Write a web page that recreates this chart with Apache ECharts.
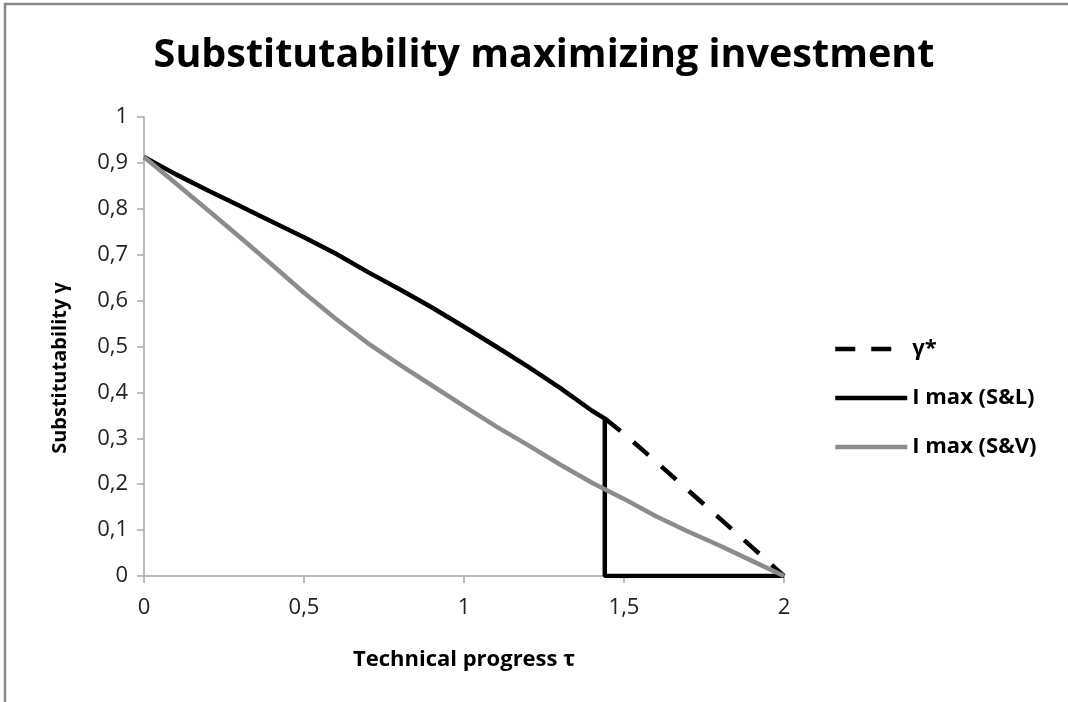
<!DOCTYPE html>
<html>
<head>
<meta charset="utf-8">
<script src="https://cdn.jsdelivr.net/npm/echarts@6/dist/echarts.min.js"></script>
<style>
html,body{margin:0;padding:0;background:#fff;}
#c{width:1068px;height:702px;}
</style>
</head>
<body>
<div id="c"></div>
<script>
const titleText = 'Substitutability maximizing investment';
const xName = 'Technical progress τ';
const yName = 'Substitutability γ';
const seriesNames = ['γ*', 'I max (S&L)', 'I max (S&V)'];

// γ* (dashed), from the S&L cut-off to τ = 2
const gammaStar = [[1.44,0.343],[1.5,0.31],[1.6,0.249],[1.7,0.187],[1.8,0.125],[1.9,0.063],[2,0]];
// I max (S&L), including the drop to zero
const imaxSL = [[0,0.913],[0.1,0.875],[0.2,0.84],[0.3,0.806],[0.4,0.772],[0.5,0.738],[0.6,0.702],[0.7,0.662],[0.8,0.624],[0.9,0.585],[1.0,0.543],[1.1,0.5],[1.2,0.456],[1.3,0.41],[1.4,0.36],[1.44,0.343],[1.44,0],[2,0]];
// I max (S&V)
const imaxSV = [[0,0.913],[0.1,0.855],[0.2,0.797],[0.3,0.738],[0.4,0.678],[0.5,0.617],[0.6,0.56],[0.7,0.507],[0.8,0.46],[0.9,0.415],[1.0,0.37],[1.1,0.326],[1.2,0.285],[1.3,0.243],[1.4,0.203],[1.5,0.168],[1.6,0.13],[1.7,0.097],[1.8,0.066],[1.9,0.033],[2.0,0]];

const FONT = 'Open Sans';
const chart = echarts.init(document.getElementById('c'), null, {renderer:'canvas'});
const fmt = v => (Math.abs(v) < 1e-9 ? '0' : (Math.abs(v-1) < 1e-9 ? '1' : (Math.abs(v-2)<1e-9 ? '2' : (+v.toFixed(1)).toString().replace('.', ','))));

chart.setOption({
  animation: false,
  backgroundColor: '#fff',
  title: {
    text: titleText,
    left: 539, top: 31, textAlign: 'center',
    textStyle: {fontFamily: FONT, fontWeight: 'bold', fontSize: 39.5, color: '#000'}
  },
  graphic: [
    {type:'rect', shape:{x:5, y:4, width:1200, height:900}, style:{fill:'none', stroke:'#8a8a8a', lineWidth:2.5}, silent:true},
    {type:'text', x:60, y:368, rotation: Math.PI/2, style:{text: yName, fontFamily: FONT, fontWeight:'bold', fontSize:20, fill:'#000', align:'center', verticalAlign:'middle'}}
  ],
  legend: {
    orient: 'vertical',
    left: 833, top: 338, padding: 0,
    itemWidth: 72, itemHeight: 26, itemGap: 27,
    itemStyle: {color: 'rgba(0,0,0,0)', borderColor: 'rgba(0,0,0,0)', borderWidth: 0, opacity: 0},
    lineStyle: {width: 4.5},
    textStyle: {fontFamily: FONT, fontWeight: 'bold', fontSize: 22, color: '#000'},
    data: [
      {name: seriesNames[0], lineStyle: {width: 4.5, type: [20, 16]}},
      {name: seriesNames[1]},
      {name: seriesNames[2]}
    ]
  },
  grid: {left: 144, right: 284, top: 117, bottom: 126, containLabel: false},
  xAxis: {
    type: 'value', min: 0, max: 2, interval: 0.5,
    name: xName, nameLocation: 'middle', nameGap: 73,
    nameTextStyle: {fontFamily: FONT, fontWeight: 'bold', fontSize: 22, color: '#000'},
    axisLine: {show: true, onZero: false, lineStyle: {color: '#a6a6a6', width: 1.5}},
    axisTick: {show: true, inside: false, length: 7, lineStyle: {color: '#a6a6a6', width: 1.5}},
    axisLabel: {formatter: fmt, fontFamily: FONT, fontSize: 22, color: '#222', margin: 21},
    splitLine: {show: false}
  },
  yAxis: {
    type: 'value', min: 0, max: 1, interval: 0.1,
    axisLine: {show: true, lineStyle: {color: '#a6a6a6', width: 1.5}},
    axisTick: {show: true, inside: false, length: 7, lineStyle: {color: '#a6a6a6', width: 1.5}},
    axisLabel: {formatter: fmt, fontFamily: FONT, fontSize: 22, color: '#222', margin: 16},
    splitLine: {show: false}
  },
  series: [
    {name: seriesNames[0], type: 'line', data: gammaStar, symbol: 'none', smooth: false,
     lineStyle: {color: '#000', width: 4.5, type: [20, 17]}, itemStyle:{color:'#000'}},
    {name: seriesNames[1], type: 'line', data: imaxSL, symbol: 'none', smooth: false,
     lineStyle: {color: '#000', width: 4.5}, itemStyle:{color:'#000'}},
    {name: seriesNames[2], type: 'line', data: imaxSV, symbol: 'none', smooth: false,
     lineStyle: {color: '#8c8c8c', width: 4.5}, itemStyle:{color:'#8c8c8c'}}
  ]
});
</script>
</body>
</html>
